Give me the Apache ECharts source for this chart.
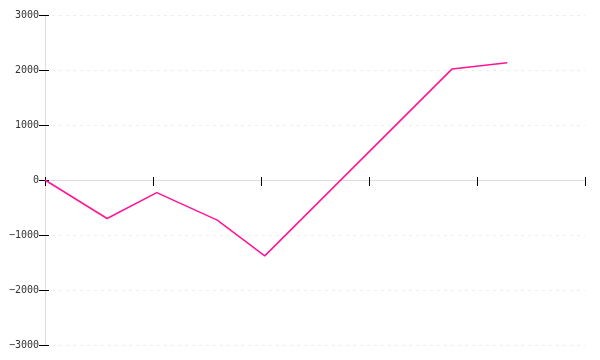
<!DOCTYPE html>
<html>
<head>
<meta charset="utf-8">
<script src="https://cdn.jsdelivr.net/npm/echarts@6/dist/echarts.min.js"></script>
<style>html,body{margin:0;padding:0;background:#fff;}#c{width:600px;height:360px;}</style>
</head>
<body>
<div id="c"></div>
<script>
var xValues = [0, 1.15, 2.07, 3.19, 4.07, 7.54, 8.56];
var yValues = [0, -700, -230, -730, -1380, 2020, 2130];
var yTicks = [-3000, -2000, -1000, 0, 1000, 2000, 3000];

var points = xValues.map(function (x, i) { return [x, yValues[i]]; });
var chart = echarts.init(document.getElementById('c'), null, {renderer: 'canvas'});
var fontFamily = 'DejaVu Sans Mono';
chart.setOption({
  animation: false,
  grid: {left: 45, right: 15, top: 15, bottom: 15},
  xAxis: [{
    type: 'value', min: 0, max: 10, interval: 2,
    axisLine: {show: true, onZero: true, lineStyle: {color: '#dddddd', width: 1}},
    axisTick: {show: true, length: 6, lineStyle: {color: '#000', width: 1}},
    axisLabel: {show: false},
    splitLine: {show: false}
  }, {
    type: 'value', min: 0, max: 10, interval: 2, position: 'bottom',
    axisLine: {show: false, onZero: true},
    axisTick: {show: true, inside: true, length: 3, lineStyle: {color: '#000', width: 1}},
    axisLabel: {show: false},
    splitLine: {show: false}
  }],
  yAxis: [{
    type: 'value', min: yTicks[0], max: yTicks[yTicks.length - 1], interval: 1000,
    axisLine: {show: true, lineStyle: {color: '#dddddd', width: 1}},
    axisTick: {show: true, length: 6, lineStyle: {color: '#000', width: 1}},
    axisLabel: {
      margin: 6, color: '#333', fontSize: 10, fontFamily: fontFamily,
      formatter: function (v) { return String(v).replace('-', '\u2212'); }
    },
    splitLine: {show: true, lineStyle: {color: '#eeeeee', type: [3, 4], width: 1}}
  }, {
    type: 'value', min: yTicks[0], max: yTicks[yTicks.length - 1], interval: 1000, position: 'left',
    axisLine: {show: false},
    axisTick: {show: true, inside: true, length: 4, lineStyle: {color: '#000', width: 1}},
    axisLabel: {show: false},
    splitLine: {show: false}
  }],
  series: [{
    type: 'line',
    data: points,
    showSymbol: false,
    symbol: 'none',
    lineStyle: {color: '#ff1493', width: 1.5},
    itemStyle: {color: '#ff1493'}
  }]
});
</script>
</body>
</html>
